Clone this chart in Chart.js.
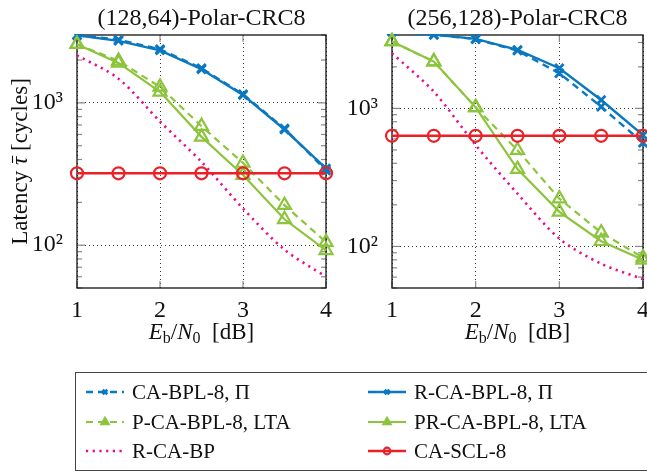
<!DOCTYPE html>
<html>
<head>
<meta charset="utf-8">
<script src="https://cdn.jsdelivr.net/npm/chart.js@4.4.0/dist/chart.umd.min.js"></script>
<style>
  body { margin: 0; background: #fff; overflow: hidden; width: 647px; height: 474px; position: relative; font-family: "Liberation Serif", serif; }
  #left { position: absolute; left: 0; top: 0; }
  #right { position: absolute; left: 320px; top: 0; }
  #legend { position: absolute; left: 75px; top: 372px; width: 640px; height: 99px; border: 1.5px solid #444; box-sizing: border-box; }
  #legend canvas { position: absolute; left: 0; top: 0; }
  .item { position: absolute; font-size: 21px; line-height: 24px; white-space: nowrap; color: #111; }
</style>
</head>
<body>
<canvas id="left" width="340" height="360"></canvas>
<canvas id="right" width="340" height="360"></canvas>
<div id="legend"><canvas id="legendCanvas" width="640" height="99"></canvas></div>
<script>
// Eb/N0 in dB
const snr = [1, 1.5, 2, 2.5, 3, 3.5, 4];

// (128,64)-Polar-CRC8, latency in cycles
const caBpl128   = [2990, 2780, 2380, 1750, 1150, 660, 335];
const rCaBpl128  = [2990, 2730, 2340, 1725, 1135, 650, 346];
const pCaBpl128  = [2585, 1975, 1295, 686, 378, 191, 105];
const prCaBpl128 = [2585, 1910, 1195, 577, 311, 152, 92];
const rCaBp128   = [2160, 1480, 740, 385, 181, 93, 60];
const caScl128   = [320, 320, 320, 320, 320, 320, 320];

// (256,128)-Polar-CRC8
const caBpl256   = [3600, 3420, 3170, 2620, 1795, 1028, 563];
const rCaBpl256  = [3600, 3420, 3190, 2653, 1953, 1149, 640];
const pCaBpl256  = [3050, 2183, 1017, 498, 222, 126, 83];
const prCaBpl256 = [3050, 2183, 1017, 363, 178, 109, 80];
const rCaBp256   = [2510, 1320, 542, 241, 114, 75, 58];
const caScl256   = [633, 633, 633, 633, 633, 633, 633];

const titles = ['(128,64)-Polar-CRC8', '(256,128)-Polar-CRC8'];
const seriesNames = ['CA-BPL-8, \u03A0', 'R-CA-BPL-8, \u03A0', 'P-CA-BPL-8, LTA', 'PR-CA-BPL-8, LTA', 'R-CA-BP', 'CA-SCL-8'];
const xTickValues = [1, 2, 3, 4];
const yTickValues = [100, 1000];
const yTickLabels = ['10\u00B2', '10\u00B3'];

const blue = '#0a78c0';
const green = '#8cc43c';
const pink = '#ec0a8c';
const red = '#ea2228';
const serif = '"Liberation Serif", serif';

const styles = [
  { color: blue, dash: [7, 5], width: 2.4, point: 'crossRot', radius: 6, pw: 2.8 },
  { color: blue, dash: [], width: 2.4, point: 'crossRot', radius: 6, pw: 2.8 },
  { color: green, dash: [7, 5], width: 2.2, point: 'triangle', radius: 7.5, pw: 2.2 },
  { color: green, dash: [], width: 2.2, point: 'triangle', radius: 7.5, pw: 2.2 },
  { color: pink, dash: [2.2, 4.5], width: 2.6, point: false, radius: 0, pw: 0 },
  { color: red, dash: [], width: 2.4, point: 'circle', radius: 6, pw: 2.2 }
];

function pts(arr) {
  return snr.map((x, i) => ({ x: x, y: arr[i] }));
}

function makeDatasets(series) {
  return series.map((arr, i) => {
    const s = styles[i];
    return {
      label: seriesNames[i],
      data: pts(arr),
      borderColor: s.color,
      borderWidth: s.width,
      borderDash: s.dash,
      pointStyle: s.point,
      pointRadius: s.radius,
      pointBorderWidth: s.pw,
      pointBorderColor: s.color,
      pointBackgroundColor: 'rgba(0,0,0,0)',
      tension: i === 4 ? 0.3 : 0,
      order: i === 5 ? 0 : 6 - i,
      clip: { left: 10, right: 10, top: i < 2 ? 1 : 10, bottom: 10 }
    };
  });
}

function line(ctx, x1, y1, x2, y2) {
  ctx.beginPath(); ctx.moveTo(x1, y1); ctx.lineTo(x2, y2); ctx.stroke();
}

// frame with inward ticks, like pgfplots
const frameTicks = {
  id: 'frameTicks',
  beforeDatasetsDraw(chart) {
    const { ctx, chartArea: a, scales: { x, y } } = chart;
    ctx.save();
    ctx.strokeStyle = '#8a8a8a';
    ctx.lineWidth = 1.2;
    for (let d = 10; d <= 1000; d *= 10) {
      for (let k = 2; k <= 9; k++) {
        const v = k * d;
        if (v < y.min || v > y.max) continue;
        const py = y.getPixelForValue(v);
        line(ctx, a.left, py, a.left + 5, py);
        line(ctx, a.right - 5, py, a.right, py);
      }
    }
    yTickValues.forEach(v => {
      const py = y.getPixelForValue(v);
      line(ctx, a.left, py, a.left + 8, py);
      line(ctx, a.right - 8, py, a.right, py);
    });
    xTickValues.forEach(v => {
      const px = x.getPixelForValue(v);
      line(ctx, px, a.bottom, px, a.bottom - 7);
      line(ctx, px, a.top, px, a.top + 7);
    });
    ctx.strokeStyle = '#111';
    ctx.lineWidth = 1.3;
    ctx.strokeRect(a.left, a.top, a.right - a.left, a.bottom - a.top);
    ctx.restore();
  }
};

function drawParts(ctx, parts, startX, baseY) {
  let xx = startX;
  parts.forEach(p => {
    ctx.font = p.f;
    ctx.fillText(p.t, xx, baseY + (p.dy || 0));
    p.x = xx;
    p.w = ctx.measureText(p.t).width;
    xx += p.w;
  });
}

function partsWidth(ctx, parts) {
  let w = 0;
  parts.forEach(p => { ctx.font = p.f; w += ctx.measureText(p.t).width; });
  return w;
}

const panelText = {
  id: 'panelText',
  afterDraw(chart, args, opts) {
    const { ctx, chartArea: a } = chart;
    const cx = (a.left + a.right) / 2;
    ctx.save();
    ctx.fillStyle = '#111';
    ctx.textBaseline = 'alphabetic';
    ctx.textAlign = 'center';
    ctx.font = '24px ' + serif;
    ctx.fillText(opts.title, cx, 25);

    ctx.textAlign = 'left';
    const xParts = [
      { t: 'E', f: 'italic 23px ' + serif },
      { t: 'b', f: '16px ' + serif, dy: 4 },
      { t: '/', f: '23px ' + serif },
      { t: 'N', f: 'italic 23px ' + serif },
      { t: '0', f: '16px ' + serif, dy: 4 },
      { t: '  [dB]', f: '23px ' + serif }
    ];
    drawParts(ctx, xParts, cx - partsWidth(ctx, xParts) / 2, 339);

    if (opts.yTitle) {
      const yParts = [
        { t: 'Latency ', f: '23px ' + serif },
        { t: '\u03C4', f: 'italic 23px ' + serif },
        { t: ' [cycles]', f: '23px ' + serif }
      ];
      ctx.translate(27, (a.top + a.bottom) / 2);
      ctx.rotate(-Math.PI / 2);
      drawParts(ctx, yParts, -partsWidth(ctx, yParts) / 2, 0);
      const tau = yParts[1];
      ctx.strokeStyle = '#111';
      ctx.lineWidth = 1.1;
      line(ctx, tau.x + 2, -14.5, tau.x + tau.w + 1, -14.5);
    }
    ctx.restore();
  }
};

function makeChart(id, series, title, yMax, yAxisWidth, padRight, yTitle) {
  return new Chart(document.getElementById(id), {
    type: 'line',
    data: { datasets: makeDatasets(series) },
    options: {
      responsive: false,
      animation: false,
      layout: { padding: { top: 35, right: padRight, left: 0, bottom: 0 } },
      plugins: {
        legend: { display: false },
        title: { display: false },
        tooltip: { enabled: false },
        panelText: { title: title, yTitle: yTitle }
      },
      scales: {
        x: {
          type: 'linear',
          min: 1,
          max: 4,
          afterFit: s => { s.height = 72; },
          afterBuildTicks: s => { s.ticks = xTickValues.map(v => ({ value: v })); },
          ticks: { padding: 8, color: '#111', font: { family: serif, size: 24 }, maxRotation: 0 },
          grid: { color: '#222', lineWidth: 0.9, drawTicks: false },
          border: { display: false, dash: [1, 3] }
        },
        y: {
          type: 'logarithmic',
          min: 50,
          max: yMax,
          afterFit: s => { s.width = yAxisWidth; },
          afterBuildTicks: s => { s.ticks = yTickValues.map(v => ({ value: v })); },
          ticks: {
            padding: 14,
            color: '#111',
            font: { family: serif, size: 24 },
            callback: v => yTickLabels[yTickValues.indexOf(v)]
          },
          grid: { color: '#222', lineWidth: 0.9, drawTicks: false },
          border: { display: false, dash: [1, 3] }
        }
      }
    },
    plugins: [frameTicks, panelText]
  });
}

makeChart('left', [caBpl128, rCaBpl128, pCaBpl128, prCaBpl128, rCaBp128, caScl128], titles[0], 3000, 77, 10, true);
makeChart('right', [caBpl256, rCaBpl256, pCaBpl256, prCaBpl256, rCaBp256, caScl256], titles[1], 3400, 72, 17, false);

// legend: two columns, three rows
const legendPos = [
  { x: 10, y: 19 }, { x: 292, y: 19 },
  { x: 10, y: 49 }, { x: 292, y: 49 },
  { x: 10, y: 78 }, { x: 292, y: 78 }
];
const lctx = document.getElementById('legendCanvas').getContext('2d');
const legendDiv = document.getElementById('legend');
legendPos.forEach((p, i) => {
  const s = styles[i];
  const w = 38;
  lctx.save();
  lctx.strokeStyle = s.color;
  lctx.lineWidth = s.width;
  lctx.setLineDash(s.dash);
  line(lctx, p.x, p.y, p.x + w, p.y);
  lctx.setLineDash([]);
  if (s.point) {
    lctx.fillStyle = s.point === 'triangle' ? s.color : 'rgba(0,0,0,0)';
    lctx.lineWidth = s.pw;
    Chart.helpers.drawPoint(lctx, { pointStyle: s.point, radius: s.radius * 0.55, rotation: 0, borderWidth: s.pw }, p.x + w / 2, p.y);
  }
  lctx.restore();
  const span = document.createElement('span');
  span.className = 'item';
  span.textContent = seriesNames[i];
  span.style.left = (p.x + w + 8) + 'px';
  span.style.top = (p.y - 12) + 'px';
  legendDiv.appendChild(span);
});
</script>
</body>
</html>
